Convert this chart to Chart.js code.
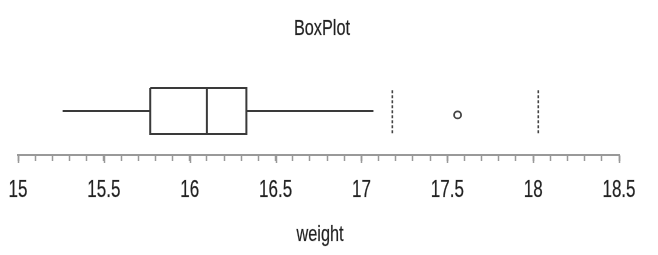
<!DOCTYPE html>
<html>
<head>
<meta charset="utf-8">
<script src="https://cdn.jsdelivr.net/npm/chart.js@4.4.1/dist/chart.umd.min.js"></script>
<style>
  html, body { margin: 0; padding: 0; background: #fff; }
  #wrap { width: 658px; height: 255px; }
</style>
</head>
<body>
<div id="wrap"><canvas id="myChart" width="658" height="255"></canvas></div>
<script>
// five number summary of weight: min, q1, median, q3, max
var stats = [15.26, 15.77, 16.10, 16.33, 17.07];
var fences = [17.18, 18.03];
var outliers = [17.56];
var tickLabels = [15, 15.5, 16, 16.5, 17, 17.5, 18, 18.5];
var chartTitle = 'BoxPlot';
var axisTitle = 'weight';

// vertical layout of the box in the hidden y scale (0..1)
const MID = 0.5, TOP = 0.76, BOTTOM = 0.24;
const LINE = '#3a3a3a';
const SQUEEZE = 0.74; // the text in the picture is narrow

function seg(x1, y1, x2, y2) {
    return [{x: x1, y: y1}, {x: x2, y: y2}];
}

function lineSet(data, dash) {
    return {
        data: data,
        showLine: true,
        borderColor: LINE,
        borderWidth: 2,
        borderDash: dash || [],
        pointRadius: 0,
        pointHoverRadius: 0
    };
}

var datasets = [
    // box
    lineSet([
        {x: stats[1], y: TOP}, {x: stats[3], y: TOP},
        {x: stats[3], y: BOTTOM}, {x: stats[1], y: BOTTOM},
        {x: stats[1], y: TOP}
    ]),
    lineSet(seg(stats[2], BOTTOM, stats[2], TOP)),
    lineSet(seg(stats[0], MID, stats[1], MID)),
    lineSet(seg(stats[3], MID, stats[4], MID))
];
fences.forEach(f => {
    var d = lineSet(seg(f, 0.735, f, 0.235), [3, 2]);
    d.borderWidth = 1.6;
    d.borderColor = '#444';
    datasets.push(d);
});
datasets.push({
    data: outliers.map(v => ({x: v, y: 0.455})),
    showLine: false,
    pointStyle: 'circle',
    pointRadius: 3.5,
    pointBorderWidth: 1.8,
    pointBorderColor: '#444',
    pointBackgroundColor: '#fff',
    pointHoverRadius: 3.5
});

function squeezedText(ctx, text, x, y) {
    ctx.save();
    ctx.translate(x, y);
    ctx.scale(SQUEEZE, 1);
    ctx.fillText(text, 0, 0);
    ctx.strokeText(text, 0, 0);
    ctx.restore();
}

var textPlugin = {
    id: 'rtext',
    afterDraw(chart) {
        var ctx = chart.ctx;
        var xs = chart.scales.x;
        var base = chart.chartArea.bottom;
        // longer marks for the labelled ticks
        ctx.save();
        ctx.strokeStyle = '#999';
        ctx.lineWidth = 1.5;
        tickLabels.forEach(v => {
            var px = Math.round(xs.getPixelForValue(v)) + 0.5;
            ctx.beginPath();
            ctx.moveTo(px, base);
            ctx.lineTo(px, base + 8);
            ctx.stroke();
        });
        ctx.restore();

        ctx.save();
        ctx.fillStyle = '#222';
        ctx.strokeStyle = 'rgba(34,34,34,0.35)';
        ctx.lineWidth = 0.6;
        ctx.textAlign = 'center';
        ctx.textBaseline = 'alphabetic';
        ctx.font = '23px "Liberation Sans", Arial, sans-serif';
        tickLabels.forEach(v => {
            squeezedText(ctx, String(v), xs.getPixelForValue(v), 197);
        });
        ctx.font = '22px "Liberation Sans", Arial, sans-serif';
        squeezedText(ctx, chartTitle, 322, 35);
        squeezedText(ctx, axisTitle, 320, 241);
        ctx.restore();
    }
};

var ctx = document.getElementById('myChart').getContext('2d');
new Chart(ctx, {
    type: 'scatter',
    data: { datasets: datasets },
    options: {
        responsive: false,
        animation: false,
        events: [],
        layout: { padding: { left: 18, right: 39, top: 67, bottom: 0 } },
        plugins: {
            legend: { display: false },
            title: { display: false },
            tooltip: { enabled: false }
        },
        scales: {
            x: {
                type: 'linear',
                min: 15,
                max: 18.5,
                afterFit: s => { s.height = 100; },
                border: { display: true, color: '#999', width: 2 },
                grid: {
                    display: true,
                    drawOnChartArea: false,
                    drawTicks: true,
                    tickLength: 6,
                    tickColor: '#999',
                    tickWidth: 1.5
                },
                ticks: { display: false, stepSize: 0.1, autoSkip: false }
            },
            y: {
                display: false,
                min: 0,
                max: 1
            }
        }
    },
    plugins: [textPlugin]
});
</script>
</body>
</html>
